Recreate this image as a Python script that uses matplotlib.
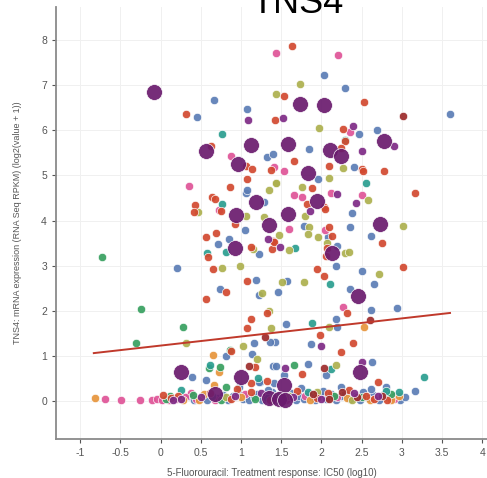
import matplotlib.pyplot as plt

# Data
purple_big = [(-0.085, 6.84), (0.57, 5.55), (1.12, 5.68), (0.96, 5.26), (1.19, 4.42), (1.73, 6.59),
              (2.03, 6.55), (2.78, 5.76), (1.59, 5.69), (2.11, 5.57), (2.25, 5.42), (1.83, 5.06),
              (1.94, 4.43), (0.94, 4.12), (1.35, 3.91), (0.93, 3.39), (1.59, 4.14), (2.73, 3.92),
              (2.13, 3.29), (2.45, 2.32), (0.26, 0.65), (1.00, 0.52), (2.48, 0.65), (1.53, 0.35),
              (0.68, 0.15), (1.35, 0.07), (1.47, 0.05), (1.55, 0.03)]

purple = [(1.09, 6.22), (1.52, 6.28), (2.39, 6.09), (2.90, 5.66), (2.50, 5.53), (2.19, 4.58),
          (2.43, 4.39), (1.34, 3.58), (1.86, 4.20), (1.49, 3.41), (2.00, 1.22), (1.55, 0.74),
          (2.50, 0.87), (0.25, 0.05), (0.15, 0.02), (0.50, 0.08), (0.92, 0.12), (1.25, 0.18),
          (1.65, 0.08), (2.00, 0.04), (2.40, 0.18), (2.70, 0.12)]

blue = [(0.66, 6.67), (0.45, 6.29), (1.07, 6.47), (1.32, 5.40), (1.40, 5.48), (1.06, 4.62),
        (1.07, 4.67), (1.29, 4.42), (2.03, 7.23), (2.30, 6.93), (3.60, 6.36), (2.47, 5.91),
        (2.69, 6.00), (1.85, 5.58), (2.40, 5.18), (1.96, 4.93), (1.05, 3.80), (0.85, 3.58),
        (0.72, 3.47), (1.23, 3.25), (0.20, 2.95), (1.19, 2.69), (0.74, 2.48), (1.22, 2.35),
        (1.16, 1.29), (0.81, 1.00), (1.14, 1.05), (1.40, 0.78), (0.39, 0.54), (2.38, 4.17),
        (1.78, 3.88), (2.36, 3.86), (2.08, 3.63), (2.62, 3.65), (2.19, 3.43), (2.18, 2.99),
        (2.51, 2.88), (1.57, 2.65), (2.66, 2.59), (1.46, 2.42), (2.36, 2.48), (2.62, 2.01),
        (2.94, 2.07), (2.18, 1.81), (1.56, 1.70), (2.20, 1.64), (1.42, 1.30), (1.87, 1.26),
        (1.36, 1.31), (1.44, 0.77), (1.84, 0.82), (2.63, 0.87), (1.54, 0.57), (2.06, 0.57),
        (0.57, 0.46), (1.24, 0.43), (1.22, 0.42), (1.41, 0.40), (2.80, 0.31), (3.16, 0.23),
        (0.35, 0.10), (0.42, 0.03), (0.52, 0.12), (0.58, 0.02), (0.72, 0.06), (0.78, 0.14),
        (0.84, 0.03), (0.90, 0.10), (0.96, 0.18), (1.02, 0.04), (1.06, 0.12), (1.10, 0.02),
        (1.16, 0.09), (1.20, 0.16), (1.26, 0.03), (1.30, 0.12), (1.38, 0.20), (1.42, 0.02),
        (1.48, 0.14), (1.58, 0.06), (1.62, 0.18), (1.68, 0.03), (1.72, 0.11), (1.78, 0.04),
        (1.82, 0.16), (1.88, 0.08), (1.92, 0.02), (1.98, 0.13), (2.02, 0.22), (2.06, 0.05),
        (2.12, 0.15), (2.18, 0.02), (2.24, 0.10), (2.30, 0.18), (2.36, 0.04), (2.42, 0.12),
        (2.48, 0.02), (2.52, 0.20), (2.58, 0.07), (2.64, 0.14), (2.72, 0.03), (2.78, 0.16),
        (2.84, 0.06), (2.92, 0.10), (2.98, 0.03), (3.04, 0.08), (1.34, 0.25), (1.75, 0.28),
        (2.25, 0.30), (2.62, 0.26), (0.98, 0.30)]

red = [(0.32, 6.37), (0.63, 5.65), (1.06, 5.20), (1.14, 5.15), (1.37, 5.13), (1.08, 4.93),
       (0.86, 4.74), (0.64, 4.52), (0.68, 4.48), (0.43, 4.34), (1.42, 6.22), (1.64, 7.87),
       (1.54, 6.75), (2.53, 6.62), (2.27, 6.03), (2.29, 5.77), (2.25, 5.60), (1.66, 5.32),
       (2.09, 5.20), (2.51, 5.15), (2.52, 5.10), (2.78, 5.10), (1.88, 4.71), (3.17, 4.60),
       (1.82, 4.36), (2.03, 4.29), (0.41, 4.19), (0.75, 4.22), (0.93, 3.92), (0.57, 3.64),
       (0.69, 3.73), (0.59, 3.18), (1.13, 3.41), (1.38, 3.36), (1.40, 3.55), (0.65, 2.93),
       (1.07, 2.65), (0.82, 2.42), (0.56, 2.25), (1.33, 1.95), (1.13, 1.81), (1.08, 1.62),
       (0.88, 1.10), (1.18, 0.75), (2.04, 4.26), (2.10, 3.86), (1.41, 3.52), (2.13, 3.66),
       (2.76, 3.51), (2.07, 3.40), (2.06, 3.21), (1.94, 2.93), (2.03, 2.77), (3.01, 2.97),
       (2.32, 1.95), (1.98, 1.46), (2.39, 1.28), (2.24, 1.09), (1.76, 0.59), (0.95, 0.27),
       (1.13, 0.40), (1.32, 0.44), (2.70, 0.43), (0.03, 0.13), (0.13, 0.07), (0.22, 0.10),
       (0.62, 0.18), (0.88, 0.05), (1.12, 0.20), (1.36, 0.02), (1.70, 0.22), (1.95, 0.06),
       (2.08, 0.18), (2.34, 0.24), (2.66, 0.04), (2.82, 0.02), (2.55, 0.12)]

pink = [(1.44, 7.71), (0.88, 5.44), (0.36, 4.76), (2.21, 7.67), (2.36, 5.97), (1.41, 5.18),
        (1.54, 5.09), (1.66, 4.57), (1.76, 4.52), (2.12, 4.60), (2.50, 4.56), (0.73, 4.23),
        (1.60, 3.82), (2.05, 3.78), (2.27, 2.09), (-0.69, 0.04), (-0.49, 0.02), (-0.26, 0.01),
        (-0.10, 0.02), (-0.04, 0.05), (0.19, 0.04), (0.38, 0.17), (0.02, 0.03), (0.10, 0.02),
        (0.30, 0.08), (0.44, 0.05), (0.68, 0.02), (1.05, 0.15), (1.56, 0.02), (1.80, 0.10),
        (2.20, 0.08), (2.90, 0.05)]

olive = [(1.43, 6.81), (1.35, 4.67), (1.43, 4.83), (1.74, 7.03), (1.97, 6.05), (2.27, 5.17),
         (2.10, 4.94), (1.44, 4.84), (1.76, 4.74), (2.58, 4.45), (0.47, 4.19), (1.06, 4.10),
         (1.29, 4.08), (1.15, 3.37), (0.76, 2.95), (0.99, 2.99), (1.26, 2.40), (1.35, 2.00),
         (1.37, 1.62), (0.32, 1.28), (1.02, 1.22), (1.20, 0.93), (1.80, 4.10), (1.85, 3.86),
         (3.01, 3.88), (1.47, 3.67), (1.84, 3.71), (1.96, 3.64), (1.60, 3.34), (2.07, 3.50),
         (2.30, 3.29), (2.34, 3.31), (2.72, 2.81), (1.51, 2.64), (1.79, 2.64), (2.10, 1.64),
         (2.18, 0.80), (0.82, 0.08), (1.60, 0.12), (1.94, 0.20), (2.38, 0.02)]

teal = [(0.76, 5.91), (0.77, 4.37), (0.81, 3.30), (0.58, 3.29), (1.67, 3.39), (2.11, 2.59),
        (2.56, 4.84), (2.30, 5.79), (1.88, 1.72), (0.61, 0.80), (1.21, 0.50), (2.12, 0.70),
        (3.28, 0.54), (0.26, 0.24), (0.64, 0.10), (1.32, 0.06), (1.84, 0.20), (2.80, 0.22),
        (2.96, 0.20)]

green = [(-0.73, 3.18), (-0.24, 2.04), (0.28, 1.63), (-0.30, 1.29), (0.86, 1.13), (0.74, 0.75),
         (0.60, 0.72), (1.66, 0.80), (0.81, 0.30), (0.07, 0.04), (0.12, 0.12), (0.40, 0.14),
         (0.75, 0.02), (1.18, 0.04), (1.44, 0.10), (2.16, 0.12), (2.50, 0.08), (2.86, 0.16)]

orange = [(0.65, 1.02), (0.73, 0.64), (2.53, 1.63), (0.66, 0.35), (-0.82, 0.06), (0.48, 0.03),
          (2.87, 0.02), (0.28, 0.02), (0.54, 0.16), (1.00, 0.08), (1.52, 0.10), (1.86, 0.02),
          (2.32, 0.06), (2.60, 0.02), (2.96, 0.12)]

darkred = [(3.01, 6.32), (1.30, 1.42), (1.10, 0.78), (2.61, 1.79), (2.03, 0.74), (1.90, 0.15),
           (2.26, 0.20), (2.44, 0.08), (2.76, 0.10), (2.10, 0.05)]

# regression line end points
reg_x = [-0.83, 3.60]
reg_y = [1.06, 1.95]

xticks = [-1, -0.5, 0, 0.5, 1, 1.5, 2, 2.5, 3, 3.5, 4]
xticklabels = ['-1', '-0.5', '0', '0.5', '1', '1.5', '2', '2.5', '3', '3.5', '4']
yticks = [0, 1, 2, 3, 4, 5, 6, 7, 8]

plt.rcParams['font.family'] = ['Liberation Sans', 'DejaVu Sans']

fig = plt.figure(figsize=(4.87, 4.78), dpi=100)
ax = fig.add_axes([0.115, 0.082, 0.885, 0.903])

groups = [
    (blue, '#5b7db5', 36),
    (pink, '#df5497', 36),
    (orange, '#e7953c', 36),
    (green, '#37a060', 36),
    (teal, '#2a9d8f', 36),
    (olive, '#adb04e', 36),
    (red, '#d2492f', 36),
    (darkred, '#9c2b2b', 36),
    (purple, '#7e2a86', 36),
    (purple_big, '#6a1b6e', 130),
]
for pts, col, size in groups:
    ax.scatter([p[0] for p in pts], [p[1] for p in pts], s=size, c=col,
               edgecolors='white', linewidths=0.5, alpha=0.92, zorder=3)

ax.plot(reg_x, reg_y, color='#c0392b', lw=1.4, zorder=4)

ax.set_xlim(-1.30, 4.06)
ax.set_ylim(-0.84, 8.73)
ax.set_xticks(xticks)
ax.set_xticklabels(xticklabels)
ax.set_yticks(yticks)
ax.grid(True, color='#f0f0f0', lw=0.7, zorder=0)
ax.set_axisbelow(True)
for s in ['top', 'right']:
    ax.spines[s].set_visible(False)
for s in ['left', 'bottom']:
    ax.spines[s].set_color('#8a8a8a')
    ax.spines[s].set_linewidth(1.3)
ax.tick_params(colors='#555555', labelsize=7.5, length=3, width=0.8)

ax.set_xlabel('5-Fluorouracil: Treatment response: IC50 (log10)', fontsize=7, color='#555555', labelpad=7)
ax.set_ylabel('TNS4: mRNA expression (RNA Seq RPKM) (log2(value + 1))', fontsize=6.5, color='#555555', labelpad=14)

# title sits partly above the figure edge, as in the reference
fig.text(0.61, 0.973, 'TNS4', fontsize=26, ha='center', va='baseline', color='black')

plt.savefig('out.png', dpi=100)
